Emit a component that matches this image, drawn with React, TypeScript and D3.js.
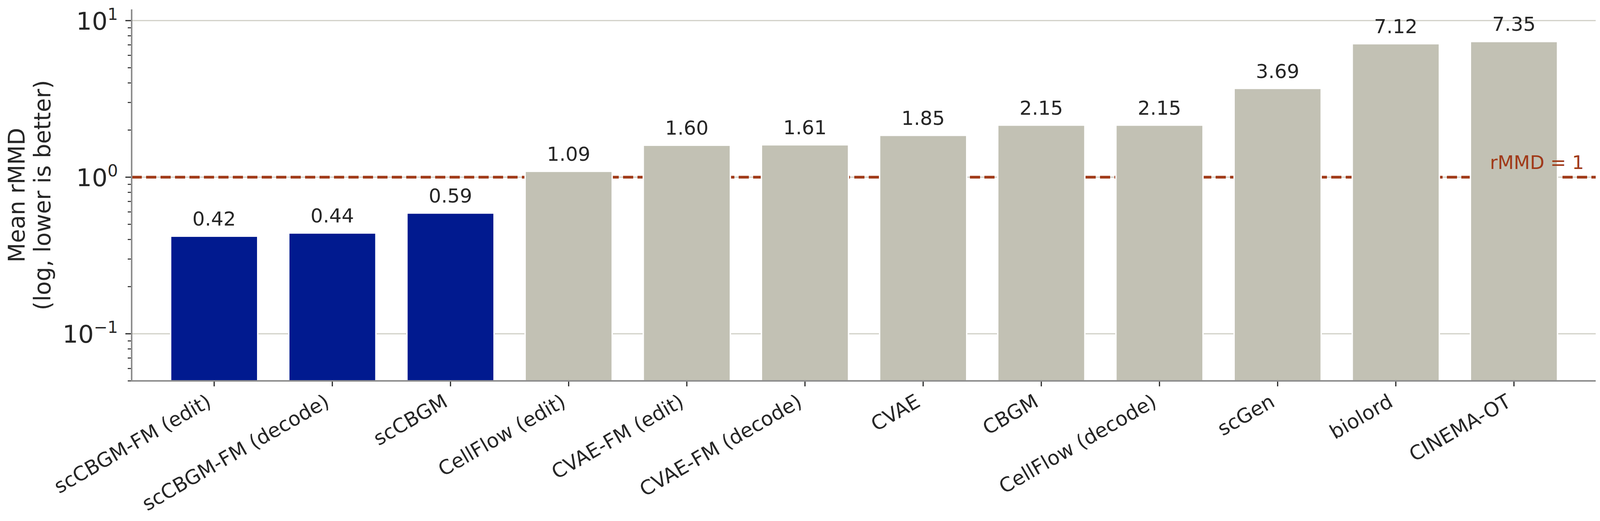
import * as d3 from "d3";
import React, { useEffect, useRef } from "react";

const methods = [
  "scCBGM-FM (edit)",
  "scCBGM-FM (decode)",
  "scCBGM",
  "CellFlow (edit)",
  "CVAE-FM (edit)",
  "CVAE-FM (decode)",
  "CVAE",
  "CBGM",
  "CellFlow (decode)",
  "scGen",
  "biolord",
  "CINEMA-OT",
];
const meanRmmd = [0.42, 0.44, 0.59, 1.09, 1.6, 1.61, 1.85, 2.15, 2.15, 3.69, 7.12, 7.35];
const ourMethods = ["scCBGM-FM (edit)", "scCBGM-FM (decode)", "scCBGM"];
const majorTicks = [0.1, 1, 10];
const majorTickExp = ["\u22121", "0", "1"];
const minorTicks = [
  0.05, 0.06, 0.07, 0.08, 0.09, 0.2, 0.3, 0.4, 0.5, 0.6, 0.7, 0.8, 0.9, 2, 3, 4, 5, 6, 7, 8, 9,
];
const yLabelLines = ["Mean rMMD", "(log, lower is better)"];
const refValue = 1;
const refLabel = "rMMD = 1";

const FONT = "'DejaVu Sans', sans-serif";
const INK = "#262626";

const App = () => {
  const svgRef = useRef<SVGSVGElement>(null);

  useEffect(() => {
    const width = 4108,
      height = 1335;
    const left = 337,
      right = 4085,
      top = 24,
      bottom = 976;

    const svg = d3.select(svgRef.current);
    svg.selectAll("*").remove();
    svg.attr("width", width).attr("height", height);

    svg.append("rect").attr("width", width).attr("height", height).attr("fill", "#ffffff");

    const x = d3
      .scaleBand()
      .domain(methods)
      .range([left + 60, right - 58])
      .paddingInner(0.263)
      .paddingOuter(0.1315);

    const y = d3.scaleLog().domain([0.05, 11.8]).range([bottom, top]);

    const cx = (m: string) => (x(m) as number) + x.bandwidth() / 2;

    // grid at major decades
    svg
      .append("g")
      .selectAll("line")
      .data(majorTicks)
      .enter()
      .append("line")
      .attr("x1", left)
      .attr("x2", right)
      .attr("y1", (d) => y(d))
      .attr("y2", (d) => y(d))
      .attr("stroke", "#d1d0c7")
      .attr("stroke-width", 3);

    // reference line
    svg
      .append("line")
      .attr("x1", left)
      .attr("x2", right)
      .attr("y1", y(refValue))
      .attr("y2", y(refValue))
      .attr("stroke", "#a03a18")
      .attr("stroke-width", 7)
      .attr("stroke-dasharray", "26 11");

    // bars
    const data = methods.map((m, i) => ({ m, v: meanRmmd[i] }));
    svg
      .append("g")
      .selectAll("rect")
      .data(data)
      .enter()
      .append("rect")
      .attr("x", (d) => x(d.m) as number)
      .attr("width", x.bandwidth())
      .attr("y", (d) => y(d.v))
      .attr("height", (d) => bottom - y(d.v))
      .attr("fill", (d) => (ourMethods.includes(d.m) ? "#011a8f" : "#c2c1b4"))
      .attr("stroke", "#ffffff")
      .attr("stroke-width", 3.5);

    // value labels
    svg
      .append("g")
      .selectAll("text")
      .data(data)
      .enter()
      .append("text")
      .attr("x", (d) => cx(d.m))
      .attr("y", (d) => y(d.v) - 27)
      .attr("text-anchor", "middle")
      .style("font-family", FONT)
      .style("font-size", "50px")
      .style("fill", INK)
      .text((d) => d.v.toFixed(2));

    // reference label
    svg
      .append("text")
      .attr("x", right - 30)
      .attr("y", y(refValue) - 21)
      .attr("text-anchor", "end")
      .style("font-family", FONT)
      .style("font-size", "48px")
      .style("fill", "#a03a18")
      .text(refLabel);

    // spines
    svg
      .append("line")
      .attr("x1", left)
      .attr("x2", left)
      .attr("y1", top)
      .attr("y2", bottom + 2)
      .attr("stroke", "#8e8e8e")
      .attr("stroke-width", 4);
    svg
      .append("line")
      .attr("x1", left - 2)
      .attr("x2", right)
      .attr("y1", bottom)
      .attr("y2", bottom)
      .attr("stroke", "#8e8e8e")
      .attr("stroke-width", 4);

    // y ticks
    const yAxis = svg.append("g");
    yAxis
      .selectAll("line.minor")
      .data(minorTicks)
      .enter()
      .append("line")
      .attr("x1", left - 10)
      .attr("x2", left - 2)
      .attr("y1", (d) => y(d))
      .attr("y2", (d) => y(d))
      .attr("stroke", INK)
      .attr("stroke-width", 2.5);
    yAxis
      .selectAll("line.major")
      .data(majorTicks)
      .enter()
      .append("line")
      .attr("x1", left - 16)
      .attr("x2", left - 2)
      .attr("y1", (d) => y(d))
      .attr("y2", (d) => y(d))
      .attr("stroke", INK)
      .attr("stroke-width", 3);
    const yLab = yAxis
      .selectAll("text")
      .data(majorTicks)
      .enter()
      .append("text")
      .attr("x", 302)
      .attr("y", (d) => y(d) + 23)
      .attr("text-anchor", "end")
      .style("font-family", FONT)
      .style("fill", INK);
    yLab.append("tspan").style("font-size", "63px").text("10");
    yLab
      .append("tspan")
      .attr("dy", -25)
      .style("font-size", "42px")
      .text((d, i) => majorTickExp[i]);

    // x ticks and labels
    const xAxis = svg.append("g");
    xAxis
      .selectAll("line")
      .data(methods)
      .enter()
      .append("line")
      .attr("x1", (d) => cx(d))
      .attr("x2", (d) => cx(d))
      .attr("y1", bottom + 2)
      .attr("y2", bottom + 14)
      .attr("stroke", INK)
      .attr("stroke-width", 3);
    xAxis
      .selectAll("text")
      .data(methods)
      .enter()
      .append("text")
      .attr("transform", (d) => `translate(${cx(d) - 4},${bottom + 63}) rotate(-30)`)
      .attr("text-anchor", "end")
      .style("font-family", FONT)
      .style("font-size", "51px")
      .style("fill", INK)
      .text((d) => d);

    // y label
    svg
      .append("g")
      .selectAll("text")
      .data(yLabelLines)
      .enter()
      .append("text")
      .attr("transform", (d, i) => `translate(${63 + i * 66},${(top + bottom) / 2}) rotate(-90)`)
      .attr("text-anchor", "middle")
      .style("font-family", FONT)
      .style("font-size", "58px")
      .style("fill", INK)
      .text((d) => d);
  }, []);

  return (
    <svg
      ref={svgRef}
      style={{ position: "absolute", left: 0, top: 0, display: "block" }}
    ></svg>
  );
};

export default App;
